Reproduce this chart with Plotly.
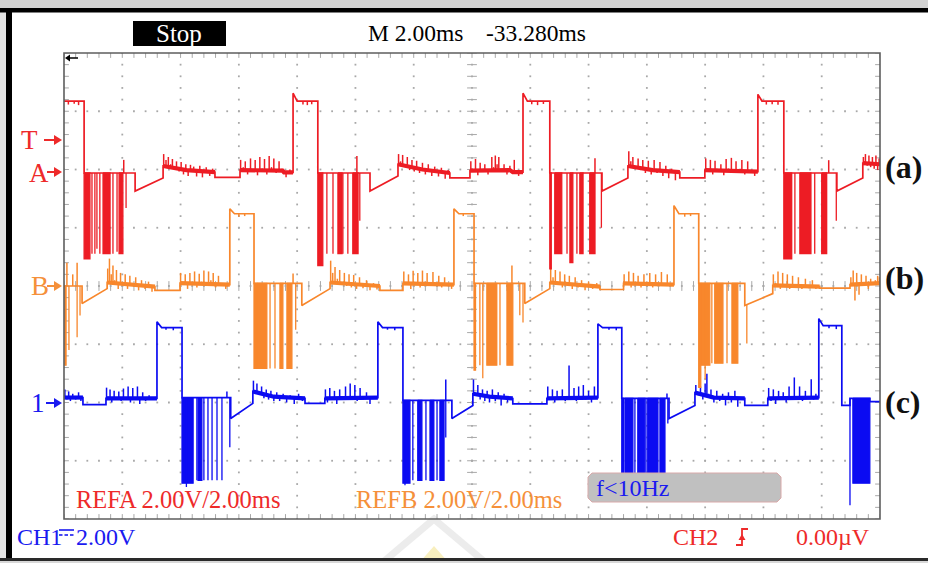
import numpy as np
import plotly.graph_objects as go

# ---------------- data ----------------
# time in ms across the 14-division screen (2.00 ms/div),
# voltages in V relative to each channel's ground marker (2.00 V/div)

A_t = [0.00, 0.69, 0.69, 2.44, 2.44, 3.40, 3.40, 4.20, 5.18, 5.18, 6.04, 6.04, 7.50, 7.55, 7.86, 7.86, 8.00,
       8.71, 8.71, 10.50, 10.50, 11.46, 11.46, 12.30, 13.24, 13.24, 13.93, 13.93, 15.30, 15.40, 15.75, 15.75, 15.90,
       16.67, 16.67, 18.46, 18.46, 19.35, 19.35, 20.20, 21.13, 21.13, 21.99, 21.99, 23.81, 23.81, 23.95,
       24.70, 24.70, 26.52, 26.52, 27.41, 27.41, 28.00]
A_v = [2.47, 2.47, 0.00, 0.00, -0.62, -0.17, 0.24, 0.10, 0.03, -0.15, -0.15, 0.10, 0.08, 0.02, 0.02, 2.74, 2.47,
       2.47, 0.00, 0.00, -0.62, -0.10, 0.30, 0.12, 0.00, -0.17, -0.17, 0.08, 0.10, 0.03, 0.03, 2.74, 2.47,
       2.47, 0.00, 0.00, -0.62, -0.17, 0.24, 0.10, 0.03, -0.17, -0.17, 0.10, 0.05, 2.70, 2.47,
       2.47, 0.00, 0.00, -0.62, -0.17, 0.34, 0.30]
A_bands = [(3.40, 5.18), (6.04, 7.86), (11.46, 13.24), (13.93, 15.75), (19.35, 21.13), (21.99, 23.81), (27.41, 28.00)]
A_chop = [(0.69, 0.89, -2.95), (0.96, 0.96, -2.77), (1.06, 1.06, -2.77), (1.13, 1.13, -2.60), (1.23, 1.23, -2.77),
          (1.34, 1.58, -2.77), (1.68, 1.68, -2.77), (1.82, 1.82, -2.70), (1.89, 2.02, -2.77), (2.13, 2.13, -1.20),
          (8.71, 8.88, -3.18), (9.02, 9.02, -2.77), (9.23, 9.23, -2.77), (9.40, 9.54, -2.77), (9.57, 9.57, -2.77),
          (9.74, 9.74, -2.77), (9.91, 10.09, -2.77), (10.15, 10.15, -1.64),
          (16.67, 16.72, -3.29), (16.84, 17.08, -2.77), (17.26, 17.26, -2.77), (17.36, 17.46, -3.08),
          (17.60, 17.60, -2.77), (17.70, 17.81, -2.77), (18.04, 18.22, -2.77), (18.44, 18.44, -1.88),
          (24.70, 24.97, -2.95), (25.08, 25.08, -2.77), (25.25, 25.63, -2.77), (25.76, 25.76, -2.77),
          (26.00, 26.17, -2.77), (26.50, 26.50, -1.64)]
A_spk = [(0.15, 2.35), (0.35, 2.38), (0.50, 2.33), (2.05, 0.45),
         (3.42, 0.65), (3.50, 0.45), (3.58, 0.55), (3.66, 0.30), (3.72, 0.48), (3.80, 0.15), (3.86, 0.40), (3.95, 0.05),
         (4.02, 0.38), (4.10, -0.05), (4.18, 0.30), (4.26, -0.10), (4.34, 0.28), (4.45, 0.22), (4.55, -0.12), (4.66, 0.25),
         (4.75, -0.15), (4.88, 0.20), (5.00, -0.10), (5.10, 0.15),
         (6.06, 0.45), (6.15, 0.20), (6.22, 0.40), (6.30, -0.05), (6.40, 0.50), (6.48, 0.10), (6.56, 0.45), (6.64, -0.08),
         (6.72, 0.55), (6.80, 0.15), (6.88, 0.48), (6.96, -0.05), (7.04, 0.58), (7.12, 0.20), (7.20, 0.50), (7.28, 0.00),
         (7.38, 0.40), (7.48, 0.15), (7.62, -0.15), (7.75, 0.12),
         (8.20, 2.35), (8.35, 2.33), (8.50, 2.36), (10.05, 0.58),
         (11.48, 0.65), (11.55, 0.40), (11.62, 0.62), (11.70, 0.25), (11.78, 0.55), (11.86, 0.10), (11.94, 0.45),
         (12.02, 0.05), (12.10, 0.42), (12.20, 0.00), (12.30, 0.35), (12.40, -0.05), (12.50, 0.30), (12.62, -0.10),
         (12.72, 0.22), (12.85, -0.12), (12.95, 0.18), (13.08, -0.20), (13.18, 0.10),
         (13.96, 0.40), (14.05, 0.05), (14.12, 0.48), (14.20, -0.08), (14.28, 0.35), (14.36, 0.10), (14.44, 0.30),
         (14.55, -0.05), (14.68, 0.55), (14.74, 0.20), (14.80, 0.60), (14.86, 0.30), (14.92, 0.55), (15.00, 0.10),
         (15.10, 0.30), (15.20, -0.05), (15.30, 0.25), (15.45, 0.45), (15.60, -0.10),
         (16.05, 2.36), (16.25, 2.33), (16.45, 2.37), (18.22, 0.51),
         (19.38, 0.75), (19.45, 0.40), (19.52, 0.55), (19.60, 0.20), (19.70, 0.50), (19.78, 0.10), (19.86, 0.45),
         (19.95, 0.00), (20.05, 0.42), (20.15, -0.05), (20.25, 0.45), (20.35, 0.00), (20.45, 0.38), (20.55, -0.10),
         (20.65, 0.25), (20.75, -0.18), (20.85, 0.15), (20.98, -0.25), (21.08, 0.10),
         (22.02, 0.50), (22.10, 0.10), (22.18, 0.45), (22.26, -0.05), (22.34, 0.42), (22.44, 0.05), (22.54, 0.30),
         (22.64, -0.08), (22.72, 0.48), (22.80, 0.15), (22.90, 0.52), (22.98, 0.05), (23.06, 0.40), (23.16, 0.10),
         (23.26, 0.45), (23.36, -0.05), (23.46, 0.40), (23.58, 0.10), (23.70, -0.10),
         (24.10, 2.35), (24.30, 2.36), (24.50, 2.34), (26.24, 0.44),
         (27.43, 0.55), (27.50, 0.65), (27.56, 0.25), (27.62, 0.60), (27.68, 0.20), (27.74, 0.55), (27.80, 0.15),
         (27.86, 0.60), (27.92, 0.10), (27.97, 0.50)]

B_t = [0.00, 0.62, 0.62, 1.48, 1.48, 2.30, 3.12, 3.12, 3.98, 3.98, 5.69, 5.69, 5.85, 6.52, 6.52, 8.16, 8.16,
       9.13, 9.13, 10.00, 10.84, 10.84, 11.63, 11.63, 13.38, 13.38, 13.55, 14.07, 14.07, 15.81, 15.81,
       16.67, 16.67, 17.50, 18.39, 18.39, 19.20, 19.20, 20.93, 20.93, 21.10, 21.78, 21.78, 23.36, 23.36,
       24.32, 24.32, 25.93, 25.93, 26.97, 26.97, 28.00]
B_v = [0.00, 0.00, -0.60, -0.09, 0.12, 0.05, -0.02, -0.15, -0.15, 0.10, 0.05, 2.65, 2.48, 2.48, 0.09, 0.09, -0.67,
       -0.09, 0.12, 0.05, 0.00, -0.15, -0.15, 0.09, 0.05, 2.65, 2.48, 2.48, 0.09, 0.09, -0.60,
       -0.09, 0.12, 0.05, -0.02, -0.12, -0.12, 0.09, 0.05, 2.76, 2.48, 2.48, 0.09, 0.09, -0.67,
       -0.26, 0.02, -0.02, -0.07, -0.07, 0.05, 0.10]
B_bands = [(1.48, 3.12), (3.98, 5.69), (9.13, 10.84), (11.63, 13.38), (16.67, 18.39), (19.20, 20.93),
           (24.32, 25.93), (26.97, 28.00)]
B_chop = [(0.03, 0.07, -2.72), (0.17, 0.17, -2.20), (0.45, 0.45, -1.76), (0.55, 0.55, -1.01),
          (6.52, 6.62, -2.83), (6.62, 6.96, -2.83), (7.07, 7.07, -2.83), (7.24, 7.24, -2.83), (7.41, 7.51, -2.83),
          (7.65, 7.82, -2.83), (7.95, 7.95, -1.50),
          (14.07, 14.12, -2.89), (14.27, 14.27, -2.72), (14.37, 14.37, -3.17), (14.51, 14.85, -2.72),
          (14.96, 14.96, -2.72), (15.20, 15.40, -2.72), (15.64, 15.64, -1.00), (15.75, 15.75, -1.25),
          (21.78, 21.85, -3.48), (21.85, 22.16, -2.72), (22.00, 22.00, -3.20), (22.23, 22.23, -2.65),
          (22.33, 22.61, -2.65), (22.75, 22.75, -2.65), (22.92, 23.12, -2.65), (23.43, 23.43, -1.97)]
B_spk = [(0.10, 0.80), (0.30, 0.40), (0.45, 0.80),
         (1.50, 0.60), (1.56, 0.94), (1.62, 0.40), (1.68, 0.70), (1.74, 0.20), (1.80, 0.55), (1.86, -0.10), (1.94, 0.45),
         (2.02, 0.10), (2.10, 0.40), (2.18, -0.10), (2.26, 0.35), (2.36, 0.00), (2.46, 0.30), (2.56, -0.15), (2.66, 0.20),
         (2.78, -0.10), (2.90, 0.15), (3.02, -0.20),
         (4.00, 0.45), (4.08, 0.05), (4.16, 0.40), (4.24, -0.10), (4.32, 0.45), (4.40, 0.10), (4.48, 0.50), (4.56, -0.05),
         (4.64, 0.42), (4.72, 0.15), (4.80, 0.53), (4.88, 0.00), (4.96, 0.50), (5.04, 0.20), (5.12, 0.45), (5.20, -0.05),
         (5.30, 0.35), (5.42, 0.05), (5.55, -0.10),
         (6.00, 2.38), (6.20, 2.40), (7.86, 0.43),
         (9.15, 0.87), (9.22, 0.45), (9.30, 0.65), (9.38, 0.25), (9.46, 0.55), (9.54, 0.10), (9.62, 0.45), (9.70, 0.00),
         (9.78, 0.40), (9.86, -0.05), (9.94, 0.38), (10.04, -0.10), (10.14, 0.30), (10.26, -0.08), (10.38, 0.20),
         (10.50, -0.15), (10.62, 0.10), (10.74, -0.12),
         (11.66, 0.50), (11.74, 0.10), (11.82, 0.40), (11.90, -0.10), (11.98, 0.52), (12.06, 0.10), (12.14, 0.45),
         (12.22, -0.05), (12.30, 0.53), (12.38, 0.15), (12.46, 0.45), (12.56, 0.00), (12.66, 0.48), (12.76, 0.10),
         (12.86, 0.35), (12.96, -0.05), (13.06, 0.30), (13.18, 0.05), (13.30, -0.10),
         (13.70, 2.40), (15.37, 0.70),
         (16.70, 0.63), (16.78, 0.30), (16.86, 0.55), (16.94, 0.15), (17.02, 0.50), (17.10, -0.05), (17.18, 0.40),
         (17.26, 0.05), (17.34, 0.35), (17.44, -0.10), (17.54, 0.30), (17.64, -0.05), (17.76, 0.20), (17.88, -0.15),
         (18.00, 0.15), (18.14, -0.10), (18.28, 0.10),
         (19.22, 0.40), (19.30, 0.10), (19.38, 0.50), (19.46, -0.05), (19.54, 0.45), (19.62, 0.10), (19.70, 0.35),
         (19.80, -0.05), (19.90, 0.40), (20.00, 0.05), (20.10, 0.45), (20.20, -0.05), (20.30, 0.40), (20.40, 0.10),
         (20.50, 0.48), (20.60, 0.00), (20.70, 0.40), (20.82, 0.05),
         (21.30, 2.38), (21.50, 2.40),
         (24.34, 0.40), (24.42, 0.10), (24.50, 0.50), (24.58, -0.10), (24.66, 0.45), (24.74, 0.05), (24.82, 0.40),
         (24.90, -0.10), (25.00, 0.35), (25.10, 0.00), (25.20, 0.30), (25.32, -0.10), (25.44, 0.25), (25.56, -0.08),
         (25.68, 0.20), (25.80, -0.10),
         (27.00, 0.30), (27.08, 0.53), (27.14, -0.50), (27.20, 0.45), (27.28, -0.30), (27.36, 0.40), (27.44, 0.05),
         (27.52, 0.35), (27.60, -0.10), (27.68, 0.25), (27.76, 0.05), (27.84, 0.20), (27.92, 0.35), (27.98, 0.30)]

C_t = [0.00, 0.65, 0.65, 1.44, 1.44, 3.19, 3.19, 3.35, 4.05, 4.05, 5.72, 5.72, 6.48, 6.48, 7.20, 8.27, 8.27,
       8.95, 8.95, 10.77, 10.77, 10.93, 11.63, 11.63, 13.31, 13.31, 14.03, 14.03, 14.60, 15.40, 15.40,
       16.57, 16.57, 18.32, 18.32, 18.48, 19.14, 19.14, 20.76, 20.76, 21.65, 21.65, 22.30, 23.36, 23.36,
       24.15, 24.15, 25.90, 25.90, 26.05, 26.69, 26.69, 26.97, 26.97, 27.65, 27.65, 28.00]
C_v = [0.17, 0.17, -0.07, -0.07, 0.14, 0.14, 2.77, 2.57, 2.57, 0.17, 0.17, -0.55, -0.03, 0.38, 0.20, 0.14, -0.03,
       -0.03, 0.14, 0.17, 2.77, 2.57, 2.57, 0.07, 0.07, -0.55, -0.10, 0.30, 0.20, 0.14, -0.05,
       -0.05, 0.14, 0.17, 2.70, 2.57, 2.57, 0.14, 0.14, -0.55, -0.10, 0.34, 0.17, 0.14, -0.10,
       -0.10, 0.14, 0.17, 2.88, 2.64, 2.64, -0.10, -0.10, 0.14, 0.14, 0.03, 0.03]
C_bands = [(0.00, 0.65), (1.44, 3.19), (6.48, 8.27), (8.95, 10.77), (14.03, 15.40), (16.57, 18.32),
           (21.65, 23.36), (24.15, 25.90)]
C_chop = [(4.05, 4.43, -2.77), (4.20, 4.20, -2.90), (4.56, 4.56, -2.67), (4.60, 4.73, -2.67), (4.80, 4.80, -2.67),
          (4.94, 4.94, -2.67), (5.08, 5.08, -2.67), (5.25, 5.25, -2.67), (5.42, 5.42, -2.67), (5.69, 5.69, -1.54),
          (11.63, 11.87, -2.77), (11.70, 11.70, -2.84), (11.97, 11.97, -2.67), (12.14, 12.28, -2.67),
          (12.42, 12.42, -2.67), (12.56, 12.69, -2.67), (12.80, 12.80, -2.67), (12.90, 13.04, -2.67),
          (13.10, 13.10, -1.20),
          (19.14, 19.20, -2.77), (19.25, 19.52, -2.77), (19.59, 19.59, -2.77), (19.69, 19.93, -2.77),
          (19.97, 19.97, -2.77), (20.03, 20.38, -2.77), (20.45, 20.62, -2.77), (20.72, 20.72, -0.72),
          (26.97, 26.97, -3.53), (27.07, 27.65, -2.77)]
C_spk = [(0.03, 0.45), (0.10, 0.10), (0.16, 0.38), (0.22, 0.05), (0.30, 0.30), (0.40, 0.10), (0.50, 0.35), (0.58, 0.05),
         (1.46, 0.51), (1.52, 0.20), (1.58, 0.45), (1.64, 0.00), (1.72, 0.40), (1.80, 0.10), (1.88, 0.38), (1.96, 0.05),
         (2.04, 0.48), (2.12, 0.10), (2.20, 0.55), (2.28, 0.00), (2.36, 0.50), (2.44, 0.10), (2.52, 0.55), (2.60, -0.05),
         (2.70, 0.35), (2.80, 0.05), (2.92, 0.25), (3.05, 0.10),
         (3.50, 2.50), (3.75, 2.48), (5.59, 0.38),
         (6.50, 0.75), (6.56, 0.40), (6.62, 0.65), (6.70, 0.30), (6.78, 0.55), (6.86, 0.15), (6.94, 0.45), (7.02, 0.10),
         (7.10, 0.40), (7.20, 0.05), (7.30, 0.35), (7.40, 0.05), (7.52, 0.30), (7.64, 0.00), (7.76, 0.25), (7.90, -0.05),
         (8.05, 0.30), (8.18, 0.05),
         (8.97, 0.45), (9.04, 0.00), (9.12, 0.50), (9.20, 0.10), (9.28, 0.40), (9.36, -0.05), (9.46, 0.45), (9.56, 0.15),
         (9.66, 0.55), (9.74, 0.10), (9.82, 0.65), (9.90, 0.20), (9.98, 0.60), (10.06, 0.05), (10.16, 0.50),
         (10.26, 0.10), (10.38, 0.35), (10.50, -0.05), (10.62, 0.20),
         (11.10, 2.50), (11.35, 2.48), (13.10, 0.79),
         (14.05, 0.79), (14.12, 0.30), (14.20, 0.60), (14.28, 0.10), (14.36, 0.45), (14.44, 0.05), (14.52, 0.40),
         (14.60, 0.00), (14.70, 0.45), (14.80, 0.05), (14.90, 0.35), (15.00, -0.10), (15.10, 0.30), (15.22, 0.00),
         (15.32, 0.20),
         (16.60, 0.55), (16.68, 0.10), (16.76, 0.45), (16.84, 0.00), (16.92, 0.40), (17.00, 0.10), (17.10, 0.45),
         (17.20, 0.05), (17.33, 1.27), (17.40, 0.20), (17.50, 0.50), (17.58, 0.05), (17.66, 0.55), (17.74, 0.15),
         (17.82, 0.60), (17.90, 0.10), (18.00, 0.40), (18.10, 0.00), (18.20, 0.55),
         (18.70, 2.50), (18.95, 2.48), (20.69, 0.31),
         (21.68, 0.60), (21.76, 0.25), (21.84, 0.55), (21.92, 0.10), (22.00, 0.65), (22.06, 0.99), (22.12, 0.30),
         (22.20, 0.45), (22.30, 0.00), (22.40, 0.40), (22.50, 0.05), (22.60, 0.30), (22.70, -0.10), (22.80, 0.35),
         (22.90, 0.00), (23.02, 0.40), (23.12, -0.15), (23.26, 0.10),
         (24.18, 0.50), (24.26, 0.05), (24.34, 0.45), (24.42, -0.05), (24.52, 0.40), (24.60, 0.10), (24.68, 0.35),
         (24.78, 0.00), (24.88, 0.55), (24.96, 0.10), (25.06, 0.86), (25.14, 0.20), (25.24, 0.55), (25.34, 0.05),
         (25.44, 0.40), (25.54, 0.15), (25.64, 0.80), (25.72, 0.10), (25.80, 0.30),
         (26.25, 2.55), (26.50, 2.52)]

# ---------------- styling / screen geometry ----------------
RED, ORANGE, BLUE = "#ED1C24", "#F8872C", "#0B0BF2"
TXT_RED, TXT_ORANGE, TXT_BLUE = "#EE2A2A", "#F5903A", "#1A1AF0"
OFF_A, OFF_B, OFF_C, OFF_T = 5.94, 4.0, 2.0, 6.52   # marker positions in divisions from bottom
VPD = 2.0                                            # volts per division
W, H = 928, 563
L, R, T, B = 64, 880, 53, 519                       # plot area in pixels


def X(px):
    return (px - L) / (R - L)


def Y(py):
    return (B - py) / (B - T)


def segment(ts, vs, t0, t1):
    out_t, out_v = [], []
    for i, (t, v) in enumerate(zip(ts, vs)):
        if t0 < t < t1:
            out_t.append(t); out_v.append(v)
        elif t == t0 and (i + 1 == len(ts) or ts[i + 1] != t0):
            out_t.append(t); out_v.append(v)
        elif t == t1 and (i == 0 or ts[i - 1] != t1):
            out_t.append(t); out_v.append(v)
    return out_t, out_v


def add_channel(fig, ts, vs, bands, chops, spikes, off, color):
    sc = lambda v: off + v / VPD
    # noisy bands (thicker)
    bx, by = [], []
    for t0, t1 in bands:
        st, sv = segment(ts, vs, t0, t1)
        bx += st + [None]
        by += [sc(v) for v in sv] + [None]
    fig.add_trace(go.Scatter(x=bx, y=by, mode="lines", line=dict(color=color, width=4.2),
                             hoverinfo="skip", showlegend=False))
    # chopping
    cx, cy = [], []
    for t0, t1, low in chops:
        top = np.interp((t0 + t1) / 2, ts, vs)
        cx += [t0, t0, t1, t1, t0, None]
        cy += [sc(top), sc(low), sc(low), sc(top), sc(top), None]
    fig.add_trace(go.Scatter(x=cx, y=cy, mode="lines", fill="toself", fillcolor=color,
                             line=dict(color=color, width=1.3), hoverinfo="skip", showlegend=False))
    # spikes
    sx, sy = [], []
    for t, tip in spikes:
        base = np.interp(t, ts, vs)
        sx += [t, t, None]
        sy += [sc(base), sc(tip), None]
    fig.add_trace(go.Scatter(x=sx, y=sy, mode="lines", line=dict(color=color, width=1.5),
                             hoverinfo="skip", showlegend=False))
    # main waveform
    fig.add_trace(go.Scatter(x=ts, y=[sc(v) for v in vs], mode="lines", line=dict(color=color, width=1.7),
                             hoverinfo="skip", showlegend=False))


fig = go.Figure()

# ---- graticule ----
GRID = "#a8a8a8"
dx, dy = [], []
for k in range(1, 8):
    for i in range(0, 71):
        dx.append(i * 0.4); dy.append(k)
for j in range(1, 14):
    for i in range(0, 41):
        dx.append(j * 2.0); dy.append(i * 0.2)
fig.add_trace(go.Scatter(x=dx, y=dy, mode="markers", marker=dict(symbol="square", size=1.8, color=GRID),
                         hoverinfo="skip", showlegend=False))
# tick marks on centre lines and border
tx_ew = [14.0] * 41 + [0.0] * 41 + [28.0] * 41
ty_ew = [i * 0.2 for i in range(41)] * 3
fig.add_trace(go.Scatter(x=tx_ew, y=ty_ew, mode="markers",
                         marker=dict(symbol="line-ew", size=7, line=dict(width=1, color=GRID)),
                         hoverinfo="skip", showlegend=False))
tx_ns = [i * 0.4 for i in range(71)] * 3
ty_ns = [4.0] * 71 + [0.0] * 71 + [8.0] * 71
fig.add_trace(go.Scatter(x=tx_ns, y=ty_ns, mode="markers",
                         marker=dict(symbol="line-ns", size=7, line=dict(width=1, color=GRID)),
                         hoverinfo="skip", showlegend=False))

# ---- channels ----
add_channel(fig, C_t, C_v, C_bands, C_chop, C_spk, OFF_C, BLUE)
add_channel(fig, B_t, B_v, B_bands, B_chop, B_spk, OFF_B, ORANGE)
add_channel(fig, A_t, A_v, A_bands, A_chop, A_spk, OFF_A, RED)


def path(points, close=True):
    s = "M " + " L ".join(f"{X(px):.5f},{Y(py):.5f}" for px, py in points)
    return s + (" Z" if close else "")


shapes = []
# screen frame
shapes.append(dict(type="rect", xref="paper", yref="paper", x0=X(0), x1=X(W), y0=Y(0), y1=Y(8),
                   fillcolor="#d2d2d2", line=dict(width=0), layer="below"))
shapes.append(dict(type="rect", xref="paper", yref="paper", x0=X(0), x1=X(W), y0=Y(8), y1=Y(12.5),
                   fillcolor="#000000", line=dict(width=0)))
shapes.append(dict(type="rect", xref="paper", yref="paper", x0=X(0), x1=X(6), y0=Y(8), y1=Y(W),
                   fillcolor="#e4e4e4", line=dict(width=0), layer="below"))
shapes.append(dict(type="rect", xref="paper", yref="paper", x0=X(6), x1=X(12), y0=Y(8), y1=Y(561),
                   fillcolor="#000000", line=dict(width=0)))
shapes.append(dict(type="rect", xref="paper", yref="paper", x0=X(0), x1=X(W), y0=Y(558), y1=Y(561),
                   fillcolor="#2a2a2a", line=dict(width=0)))
shapes.append(dict(type="rect", xref="paper", yref="paper", x0=X(0), x1=X(W), y0=Y(561), y1=Y(563),
                   fillcolor="#d8d8d8", line=dict(width=0)))
# watermark
shapes.append(dict(type="path", xref="paper", yref="paper",
                   path=path([(434, 519), (382, 563), (486, 563)]),
                   fillcolor="rgba(0,0,0,0)", line=dict(color="#ececec", width=7), layer="below"))
shapes.append(dict(type="path", xref="paper", yref="paper",
                   path=path([(434, 546), (419, 563), (449, 563)]),
                   fillcolor="#f8efbf", line=dict(width=0), layer="below"))
# graticule border
shapes.append(dict(type="rect", xref="paper", yref="paper", x0=0, x1=1, y0=0, y1=1,
                   line=dict(color="#5e5e5e", width=1.6)))
# Stop box
shapes.append(dict(type="rect", xref="paper", yref="paper", x0=X(133), x1=X(226), y0=Y(46), y1=Y(21),
                   fillcolor="#000000", line=dict(width=0)))
# f<10Hz box
shapes.append(dict(type="path", xref="paper", yref="paper",
                   path=path([(592, 473), (777, 473), (781, 477), (781, 498), (777, 502), (592, 502),
                              (588, 498), (588, 477)]),
                   fillcolor="#c0c0c0", line=dict(color="#d9aaaa", width=1)))
# trigger-position arrow at top-left
shapes.append(dict(type="path", xref="paper", yref="paper", path=path([(68, 58), (78, 58)], close=False),
                   line=dict(color="#000000", width=1.5)))
shapes.append(dict(type="path", xref="paper", yref="paper", path=path([(65, 58), (70, 54.5), (70, 61.5)]),
                   fillcolor="#000000", line=dict(width=0)))
# channel marker arrows
for yy, col, xs in [(140, TXT_RED, 44), (172, TXT_RED, 47), (286, TXT_ORANGE, 47), (403, TXT_BLUE, 46)]:
    shapes.append(dict(type="path", xref="paper", yref="paper", path=path([(xs, yy), (56, yy)], close=False),
                       line=dict(color=col, width=2)))
    shapes.append(dict(type="path", xref="paper", yref="paper",
                       path=path([(54, yy - 5), (62, yy), (54, yy + 5)]), fillcolor=col, line=dict(width=0)))
# rising-edge trigger symbol
shapes.append(dict(type="path", xref="paper", yref="paper",
                   path=path([(736, 545), (742, 545), (742, 529), (748, 529)], close=False),
                   line=dict(color=TXT_RED, width=1.8)))
shapes.append(dict(type="path", xref="paper", yref="paper",
                   path=path([(738.5, 540), (742, 534), (745.5, 540)]), fillcolor=TXT_RED, line=dict(width=0)))
# DC coupling symbol
shapes.append(dict(type="path", xref="paper", yref="paper", path=path([(59, 530), (74, 530)], close=False),
                   line=dict(color=TXT_BLUE, width=1.6)))
for x0 in (59, 64.5, 70):
    shapes.append(dict(type="path", xref="paper", yref="paper", path=path([(x0, 535), (x0 + 3.5, 535)], close=False),
                       line=dict(color=TXT_BLUE, width=1.6)))

SERIF = "Liberation Serif"


def ann(text, px, py, color, size, xanchor="left", bold=False):
    t = f"<b>{text}</b>" if bold else text
    return dict(text=t, x=X(px), y=Y(py), xref="paper", yref="paper", xanchor=xanchor, yanchor="middle",
                showarrow=False, font=dict(family=SERIF, size=size, color=color))


annotations = [
    ann("Stop", 179, 34, "#ffffff", 25, "center"),
    ann("M 2.00ms", 366, 33, "#000000", 23.5),
    ann("-33.280ms", 484, 33, "#000000", 23.5),
    ann("T", 29, 140, TXT_RED, 27, "center"),
    ann("A", 39, 173, TXT_RED, 27, "center"),
    ann("B", 40, 286, TXT_ORANGE, 27, "center"),
    ann("1", 38, 403, TXT_BLUE, 27, "center"),
    ann("(a)", 883, 167, "#111111", 32, bold=True),
    ann("(b)", 883, 278, "#111111", 32, bold=True),
    ann("(c)", 883, 402, "#111111", 32, bold=True),
    ann("REFA 2.00V/2.00ms", 74, 499, TXT_RED, 24.5),
    ann("REFB 2.00V/2.00ms", 354, 499, TXT_ORANGE, 24.5),
    ann("f&lt;10Hz", 594, 488, TXT_BLUE, 24),
    ann("CH1", 15, 537, TXT_BLUE, 24),
    ann("2.00V", 74, 537, TXT_BLUE, 24),
    ann("CH2", 671, 537, TXT_RED, 24),
    ann("0.00\u00b5V", 794, 537, TXT_RED, 24),
]

fig.update_layout(
    width=W, height=H,
    margin=dict(l=L, r=W - R, t=T, b=H - B, pad=0),
    paper_bgcolor="#ffffff", plot_bgcolor="#ffffff",
    xaxis=dict(range=[0, 28], showgrid=False, zeroline=False, showticklabels=False, ticks="", fixedrange=True),
    yaxis=dict(range=[0, 8], showgrid=False, zeroline=False, showticklabels=False, ticks="", fixedrange=True),
    shapes=shapes, annotations=annotations, showlegend=False,
)

fig.write_html("out.html")
